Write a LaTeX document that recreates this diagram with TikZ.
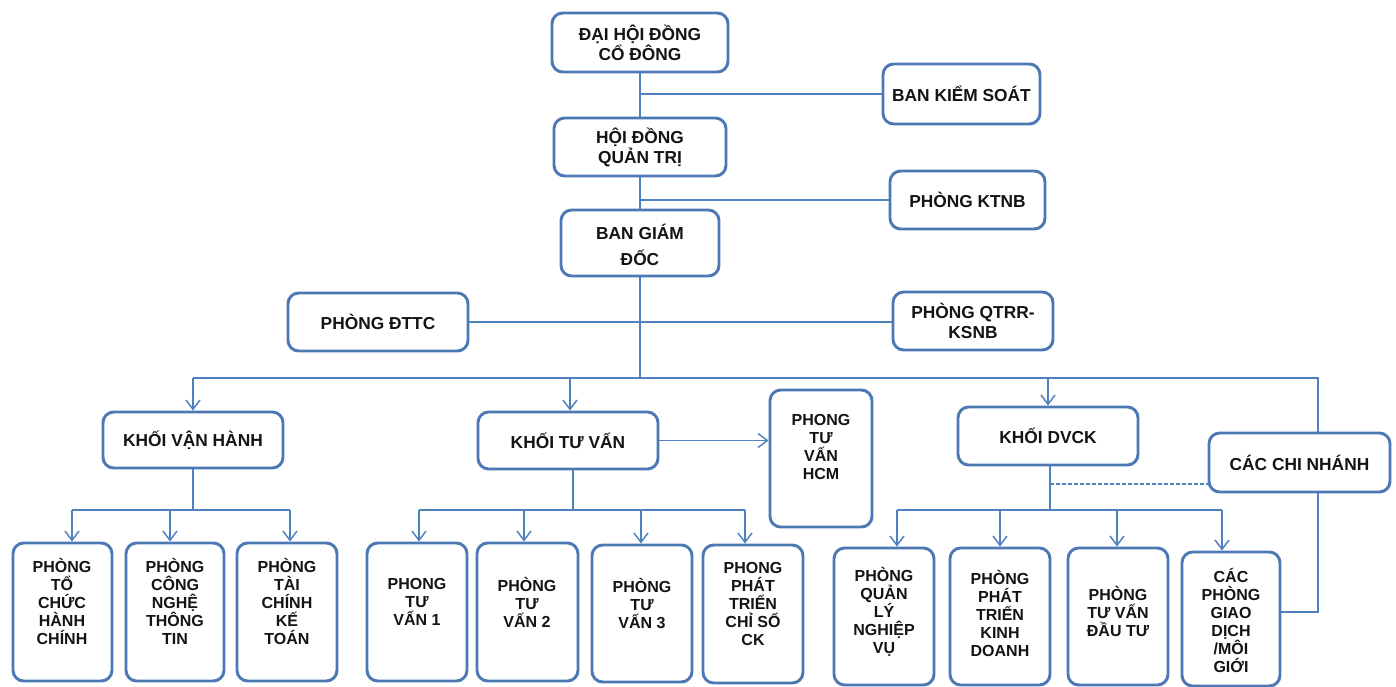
\documentclass[tikz,border=0pt]{standalone}
\usepackage{fontspec}
\setmainfont{Liberation Sans}
\usetikzlibrary{arrows.meta,fit}
\definecolor{lc}{RGB}{79,129,189}
\definecolor{bc}{RGB}{76,120,180}
\definecolor{tc}{RGB}{20,20,20}
\begin{document}
\begin{tikzpicture}[x=0.75pt,y=-0.75pt,
 box/.style={draw=bc,line width=2.2pt,rounded corners=8pt,fill=white,inner sep=0pt},
 ttop/.style={font=\bfseries\fontsize{13}{15}\selectfont,align=center,text=tc},
 tbot/.style={font=\bfseries\fontsize{12}{13.5}\selectfont,align=center,text=tc},
 con/.style={draw=lc,line width=1.1pt},
 arr/.style={con,-{Straight Barb[length=7pt,width=10.5pt]}}]
\useasboundingbox (0,0) rectangle (1396,686);

% top boxes
\node[box,fit={(552,13)(728,72)}] (dhd) {};
\node[ttop] (dhdT) at (dhd.center) {ĐẠI HỘI ĐỒNG\\CỔ ĐÔNG};
\node[box,fit={(883,64)(1040,124)}] (bks) {};
\node[ttop] (bksT) at (bks.center) {BAN KIỂM SOÁT};
\node[box,fit={(554,118)(726,176)}] (hdqt) {};
\node[ttop] (hdqtT) at (hdqt.center) {HỘI ĐỒNG\\QUẢN TRỊ};
\node[box,fit={(890,171)(1045,229)}] (ktnb) {};
\node[ttop] (ktnbT) at (ktnb.center) {PHÒNG KTNB};
\node[box,fit={(561,210)(719,276)}] (bgd) {};
\node[ttop] (bgdT) at (640,245) {BAN GIÁM\\[5pt]ĐỐC};
\node[box,fit={(288,293)(468,351)}] (dttc) {};
\node[ttop] (dttcT) at (dttc.center) {PHÒNG ĐTTC};
\node[box,fit={(893,292)(1053,350)}] (qtrr) {};
\node[ttop] (qtrrT) at (qtrr.center) {PHÒNG QTRR-\\KSNB};

% second level
\node[box,fit={(103,412)(283,468)}] (kvh) {};
\node[ttop] (kvhT) at (kvh.center) {KHỐI VẬN HÀNH};
\node[box,fit={(478,412)(658,469)}] (ktv) {};
\node[ttop] (ktvT) at (ktv.center) {KHỐI TƯ VẤN};
\node[box,fit={(770,390)(872,527)}] (hcm) {};
\node[tbot] (hcmT) at (821,447) {PHONG\\TƯ\\VẤN\\HCM};
\node[box,fit={(958,407)(1138,465)}] (kdv) {};
\node[ttop] (kdvT) at (kdv.center) {KHỐI DVCK};
\node[box,fit={(1209,433)(1390,492)}] (ccn) {};
\node[ttop] (ccnT) at (ccn.center) {CÁC CHI NHÁNH};

% bottom boxes
\node[box,fit={(13,543)(112,681)}] (b1) {};
\node[tbot] (b1T) at (62,601) {PHÒNG\\TỔ\\CHỨC\\HÀNH\\CHÍNH};
\node[box,fit={(126,543)(224,681)}] (b2) {};
\node[tbot] (b2T) at (175,601) {PHÒNG\\CÔNG\\NGHỆ\\THÔNG\\TIN};
\node[box,fit={(237,543)(337,681)}] (b3) {};
\node[tbot] (b3T) at (287,601) {PHÒNG\\TÀI\\CHÍNH\\KẾ\\TOÁN};
\node[box,fit={(367,543)(467,681)}] (b4) {};
\node[tbot] (b4T) at (417,602) {PHONG\\TƯ\\VẤN 1};
\node[box,fit={(477,543)(578,681)}] (b5) {};
\node[tbot] (b5T) at (527,602) {PHÒNG\\TƯ\\VẤN 2};
\node[box,fit={(592,545)(692,682)}] (b6) {};
\node[tbot] (b6T) at (642,603) {PHÒNG\\TƯ\\VẤN 3};
\node[box,fit={(703,545)(803,683)}] (b7) {};
\node[tbot] (b7T) at (753,604) {PHONG\\PHÁT\\TRIỂN\\CHỈ SỐ\\CK};
\node[box,fit={(834,548)(934,685)}] (b8) {};
\node[tbot] (b8T) at (884,612) {PHÒNG\\QUẢN\\LÝ\\NGHIỆP\\VỤ};
\node[box,fit={(950,548)(1050,685)}] (b9) {};
\node[tbot] (b9T) at (1000,613) {PHÒNG\\PHÁT\\TRIỂN\\KINH\\DOANH};
\node[box,fit={(1068,548)(1168,685)}] (b10) {};
\node[tbot] (b10T) at (1118,611) {PHÒNG\\TƯ VẤN\\ĐẦU TƯ};
\node[box,fit={(1182,552)(1280,686)}] (b11) {};
\node[tbot] (b11T) at (1231,620) {CÁC\\PHÒNG\\GIAO\\DỊCH\\/MÔI\\GIỚI};

% hubs
\coordinate (bus) at (640,378);
\coordinate (h1) at (193,510);
\coordinate (h2) at (573,510);
\coordinate (h3) at (1050,510);
\coordinate (rx) at (1318,378);

% connectors, top
\draw[con] (dhd.south) -- (hdqt.north);
\draw[con] (hdqt.south) -- (bgd.north);
\draw[con] (bgd.south) -- (bus);
\draw[con] (bks.west) -- (bks.west -| dhd.south);
\draw[con] (ktnb.west) -- (ktnb.west -| hdqt.south);
\draw[con] (dttc.east) -- (dttc.east -| qtrr.west);
\draw[con] (bus -| kvh.north) -- (rx) -- (rx |- ccn.north);
\draw[arr] (bus -| kvh.north) -- (kvh.north);
\draw[arr] (bus -| 570,0) -- (ktv.north -| 570,0);
\draw[arr] (bus -| kdv.north) -- (kdv.north);
\draw[arr] (ktv.east) -- (ktv.east -| hcm.west);

% connectors, bottom left
\draw[con] (kvh.south -| h1) -- (h1);
\draw[con] (h1 -| 72,0) -- (h1 -| 290,0);
\draw[arr] (h1 -| 72,0) -- (b1.north -| 72,0);
\draw[arr] (h1 -| 170,0) -- (b2.north -| 170,0);
\draw[arr] (h1 -| 290,0) -- (b3.north -| 290,0);

% bottom middle
\draw[con] (ktv.south -| h2) -- (h2);
\draw[con] (h2 -| 419,0) -- (h2 -| 745,0);
\draw[arr] (h2 -| 419,0) -- (b4.north -| 419,0);
\draw[arr] (h2 -| 524,0) -- (b5.north -| 524,0);
\draw[arr] (h2 -| 641,0) -- (b6.north -| 641,0);
\draw[arr] (h2 -| 745,0) -- (b7.north -| 745,0);

% bottom right
\draw[con] (kdv.south -| h3) -- (h3);
\draw[con] (h3 -| 897,0) -- (h3 -| 1222,0);
\draw[arr] (h3 -| 897,0) -- (b8.north -| 897,0);
\draw[arr] (h3 -| 1000,0) -- (b9.north -| 1000,0);
\draw[arr] (h3 -| 1117,0) -- (b10.north -| 1117,0);
\draw[arr] (h3 -| 1222,0) -- (b11.north -| 1222,0);
\draw[con,dashed,dash pattern=on 3pt off 1.5pt] (h3 |- 0,484) -- (ccn.west |- 0,484);
\draw[con] (rx |- ccn.south) -- (rx |- 0,612) -- (b11.east |- 0,612);
\end{tikzpicture}
\end{document}
